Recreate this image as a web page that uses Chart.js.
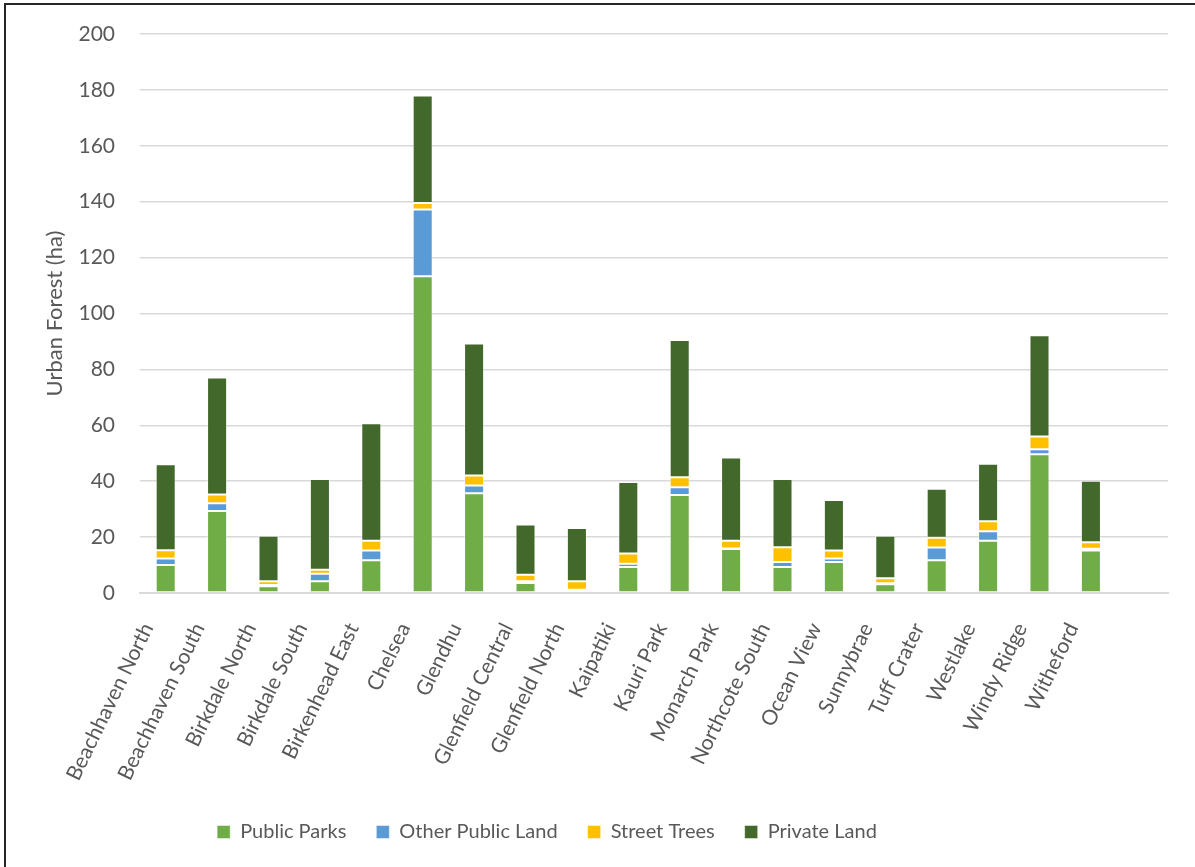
<!DOCTYPE html>
<html>
<head>
<meta charset="utf-8">
<title>Urban Forest by Suburb</title>
<script src="https://cdn.jsdelivr.net/npm/chart.js@4"></script>
<style>
  html, body { margin: 0; padding: 0; background: #fff; }
  #wrap { position: relative; width: 1195px; height: 867px; overflow: hidden; }
  #frame { position: absolute; left: 4px; top: 3px; width: 1300px; height: 1000px; border: 2px solid #262626; box-sizing: border-box; }
  #chart { position: absolute; left: 0; top: 0; }
</style>
</head>
<body>
<div id="wrap">
  <div id="frame"></div>
  <canvas id="chart" width="1195" height="867"></canvas>
</div>
<script>
'use strict';

// ******* DATA (hectares) ********

let suburbs = ['Beachhaven North', 'Beachhaven South', 'Birkdale North', 'Birkdale South', 'Birkenhead East',
  'Chelsea', 'Glendhu', 'Glenfield Central', 'Glenfield North', 'Kaipatiki', 'Kauri Park', 'Monarch Park',
  'Northcote South', 'Ocean View', 'Sunnybrae', 'Tuff Crater', 'Westlake', 'Windy Ridge', 'Witheford'];

let publicParks = [10.0, 29.3, 2.4, 4.2, 11.7, 113.3, 35.7, 3.6, 0.6, 9.3, 35.1, 15.7, 9.3, 11.1, 3.1, 11.7, 18.7, 49.6, 15.2];
let otherPublicLand = [2.3, 2.8, 0.5, 2.7, 3.5, 23.9, 2.8, 0.6, 0.6, 1.2, 2.7, 0.2, 1.8, 1.2, 0.4, 4.6, 3.4, 1.8, 0.6];
let streetTrees = [3.0, 3.1, 1.3, 1.4, 3.5, 2.3, 3.5, 2.3, 3.0, 3.6, 3.6, 2.8, 5.3, 2.9, 1.8, 3.5, 3.6, 4.6, 2.4];
let privateLand = [30.8, 41.9, 16.3, 32.5, 42.0, 38.5, 47.3, 18.0, 19.1, 25.6, 49.1, 29.8, 24.4, 18.1, 15.2, 17.5, 20.5, 36.2, 22.0];

let yTicks = [0, 20, 40, 60, 80, 100, 120, 140, 160, 180, 200];

// ******* STYLE ********

let textGrey = '#595959';
let gridGrey = '#d9d9d9';
let fontFace = 'Lato, "Open Sans", sans-serif';

function makeSeries(label, data, color){
  return {
    label: label,
    data: data,
    backgroundColor: color,
    borderColor: 'rgba(255,255,255,0.45)',
    borderWidth: 1,
    borderSkipped: false,
    barPercentage: 0.39,
    categoryPercentage: 1
  };
}

// legend sits a little left of the canvas centre
let legendNudge = {
  id: 'legendNudge',
  afterLayout(chart){
    let lg = chart.legend;
    if(!lg) return;
    let dx = -37;
    let h = lg.bottom - lg.top;
    lg.left += dx;
    lg.right += dx;
    lg.top = 792;
    lg.bottom = lg.top + h;
  }
};

let ctx = document.getElementById('chart');

new Chart(ctx, { //eslint-disable-line
  type: 'bar',
  data: {
    // one trailing empty slot keeps the plot running past the last suburb
    labels: suburbs.concat(['']),
    datasets: [
      makeSeries('Public Parks', publicParks, '#70ad47'),
      makeSeries('Other Public Land', otherPublicLand, '#5b9bd5'),
      makeSeries('Street Trees', streetTrees, '#ffc000'),
      makeSeries('Private Land', privateLand, '#43682b')
    ]
  },
  options: {
    responsive: false,
    animation: false,
    layout: { padding: { top: 34, right: 27, bottom: 0, left: 0 } },
    plugins: {
      legend: {
        position: 'bottom',
        labels: {
          color: textGrey,
          font: { family: fontFace, size: 20 },
          boxWidth: 13,
          boxHeight: 13,
          padding: 30
        }
      },
      tooltip: { enabled: false }
    },
    scales: {
      x: {
        stacked: true,
        grid: { display: false },
        border: { color: gridGrey, width: 2 },
        ticks: {
          color: textGrey,
          font: { family: fontFace, size: 21 },
          minRotation: 64,
          maxRotation: 64,
          autoSkip: false,
          labelOffset: -18,
          padding: 18
        },
        afterFit(scale){
          scale.height = 214;
        }
      },
      y: {
        stacked: true,
        min: 0,
        max: 200,
        afterBuildTicks(scale){
          scale.ticks = yTicks.map(v => ({ value: v }));
        },
        grid: { color: gridGrey, lineWidth: 1.5, drawTicks: false },
        border: { display: false },
        ticks: {
          color: textGrey,
          font: { family: fontFace, size: 21 },
          padding: 25
        },
        title: {
          display: true,
          text: 'Urban Forest (ha)',
          color: textGrey,
          font: { family: fontFace, size: 22 },
          padding: { top: 42, bottom: 0 }
        },
        afterFit(scale){
          scale.width = 140;
          // tick padding would otherwise push the plot top down
          scale.paddingTop = 0;
        }
      }
    }
  },
  plugins: [legendNudge]
});
</script>
</body>
</html>
